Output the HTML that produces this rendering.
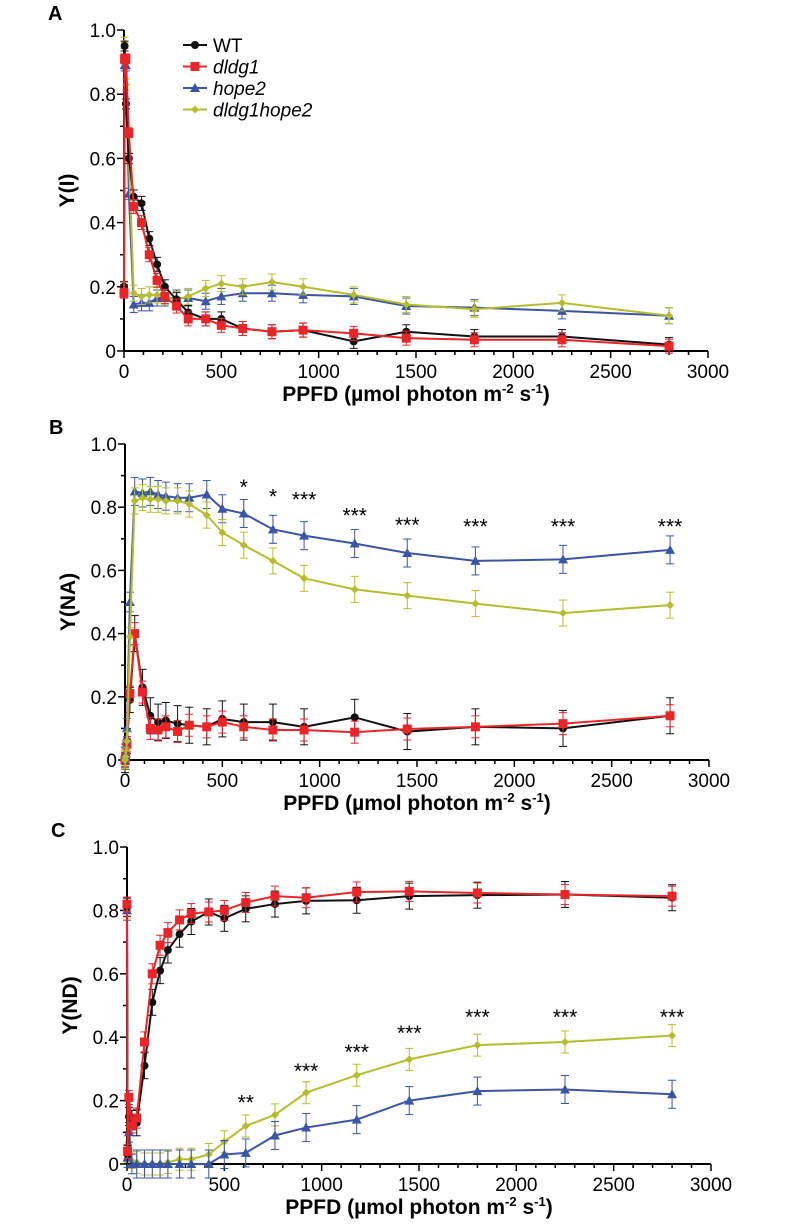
<!DOCTYPE html><html><head><meta charset="utf-8"><style>body{margin:0;background:#fff}svg{display:block}</style></head><body>
<svg id="s" width="800" height="1229" xmlns="http://www.w3.org/2000/svg" font-family="Liberation Sans, Arial, sans-serif"></svg>
<script>
const S=document.getElementById('s');let h='';
const C={k:'#111',r:'#e8262a',b:'#3a55a4',y:'#b5bd2f'};
const X=[0,3,10,25,50,90,130,170,210,270,330,420,500,610,760,920,1180,1450,1800,2250,2800];
function panel(P){
 const {x0,y0,y1,letter,title}=P;const px=v=>x0+v*(584/3000);const py=v=>y0-(y0-y1)*v;
 h+=`<text x="${x0-76}" y="${y1-10}" font-size="20" font-weight="bold">${letter}</text>`;
 h+=`<line x1="${x0}" y1="${y1}" x2="${x0}" y2="${y0}" stroke="#000" stroke-width="2"/><line x1="${x0}" y1="${y0}" x2="${px(3000)}" y2="${y0}" stroke="#000" stroke-width="2"/>`;
 for(let i=0;i<=10;i++){const y=py(i/10);const L=i%2?4:7;h+=`<line x1="${x0-L}" x2="${x0}" y1="${y}" y2="${y}" stroke="#000" stroke-width="1.5"/>`;if(i%2==0)h+=`<text x="${x0-8}" y="${y+7}" font-size="19" text-anchor="end">${i==0?'0':(i/10).toFixed(1)}</text>`;}
 for(let v=0;v<=3000;v+=100){const x=px(v);const L=v%500?4:7;h+=`<line x1="${x}" x2="${x}" y1="${y0}" y2="${y0+L}" stroke="#000" stroke-width="1.5"/>`;if(v%500==0)h+=`<text x="${x}" y="${y0+27}" font-size="19" text-anchor="middle">${v}</text>`;}
 h+=`<text x="${px(1500)}" y="${y0+50}" font-size="21" font-weight="bold" text-anchor="middle">PPFD (µmol photon m<tspan font-size="13" dy="-8">-2</tspan><tspan dy="8"> s</tspan><tspan font-size="13" dy="-8">-1</tspan><tspan dy="8">)</tspan></text>`;
 h+=`<text transform="translate(${x0-50},${(y0+y1)/2}) rotate(-90)" font-size="21" font-weight="bold" text-anchor="middle">${title}</text>`;
 for(const s of P.series){const c=C[s.c];let pts=[];s.d.forEach((v,i)=>{if(v==null)return;pts.push([px(X[i]),py(v)]);});
  pts.forEach(([x,y],i)=>{const e=(i>3?10:7)*(s.e||1);h+=`<line x1="${x}" x2="${x}" y1="${y-e}" y2="${y+e}" stroke="${c}" stroke-width="1"/><line x1="${x-4}" x2="${x+4}" y1="${y-e}" y2="${y-e}" stroke="${c}"/><line x1="${x-4}" x2="${x+4}" y1="${y+e}" y2="${y+e}" stroke="${c}"/>`;});
  h+=`<polyline fill="none" stroke="${c}" stroke-width="2" points="${pts.map(p=>p.join(',')).join(' ')}"/>`;
  pts.forEach(([x,y])=>{h+=mk(s.c,x,y);});}
 for(const [v,y,t] of P.stars||[])h+=`<text x="${px(v)}" y="${py(y)+9}" font-size="21" text-anchor="middle">${t}</text>`;
}
function mk(c,x,y){const col=C[c];if(c=='k')return `<circle cx="${x}" cy="${y}" r="4" fill="${col}"/>`;if(c=='r')return `<rect x="${x-4.5}" y="${y-4.5}" width="9" height="9" fill="${col}"/>`;if(c=='b')return `<polygon points="${x},${y-5} ${x-5},${y+4} ${x+5},${y+4}" fill="${col}"/>`;return `<polygon points="${x},${y-4} ${x+4},${y} ${x},${y+4} ${x-4},${y}" fill="${col}"/>`;}
panel({x0:124,y0:351,y1:30,letter:'A',title:'Y(I)',series:[
 {c:'b',d:[0.19,0.89,0.89,0.49,0.145,0.15,0.15,0.165,0.165,0.165,0.165,0.155,0.17,0.18,0.18,0.175,0.17,0.14,0.135,0.125,0.11],e:.8},
 {c:'y',d:[0.2,0.96,0.83,0.6,0.18,0.17,0.175,0.175,0.17,0.16,0.17,0.195,0.21,0.2,0.215,0.2,0.175,0.145,0.13,0.15,0.11],e:.8},
 {c:'k',d:[0.2,0.95,0.77,0.6,0.48,0.46,0.35,0.27,0.2,0.16,0.12,0.1,0.1,0.07,0.06,0.065,0.03,0.06,0.045,0.045,0.02],e:.7},
 {c:'r',d:[0.18,0.91,0.91,0.68,0.45,0.4,0.3,0.22,0.17,0.14,0.1,0.1,0.08,0.07,0.06,0.065,0.055,0.04,0.035,0.035,0.015],e:.7}]});
panel({x0:125,y0:760,y1:444,letter:'B',title:'Y(NA)',series:[
 {c:'k',d:[0,0.01,0.06,0.19,0.4,0.23,0.14,0.12,0.125,0.115,0.11,0.105,0.13,0.12,0.12,0.105,0.135,0.09,0.105,0.1,0.14],e:1.8},
 {c:'r',d:[0,0.01,0.05,0.21,0.4,0.215,0.1,0.095,0.105,0.09,0.11,0.105,0.12,0.105,0.095,0.095,0.088,0.098,0.105,0.115,0.14],e:1.1},
 {c:'b',d:[0.01,0.02,0.1,0.5,0.85,0.845,0.85,0.84,0.835,0.83,0.83,0.84,0.795,0.78,0.73,0.71,0.685,0.655,0.63,0.635,0.665],e:1.4},
 {c:'y',d:[0,0.01,0.06,0.39,0.82,0.83,0.825,0.825,0.82,0.82,0.81,0.775,0.72,0.68,0.63,0.575,0.54,0.52,0.495,0.465,0.49],e:1.3}],
 stars:[[610,0.87,'*'],[760,0.84,'*'],[920,0.83,'***'],[1180,0.78,'***'],[1450,0.75,'***'],[1800,0.745,'***'],[2250,0.745,'***'],[2800,0.745,'***']]});
panel({x0:127,y0:1164,y1:847,letter:'C',title:'Y(ND)',series:[
 {c:'y',d:[0.8,0.03,0.12,0.01,0.005,0,0,0,0.005,0.015,0.015,0.03,0.07,0.12,0.155,0.225,0.28,0.33,0.375,0.385,0.405],e:1.1},
 {c:'b',d:[0.8,0.02,0.1,0,0,0,0,0,0,0,0,0,0.03,0.035,0.09,0.115,0.14,0.2,0.23,0.235,0.22],e:1.4},
 {c:'k',d:[0.81,0.03,0.15,0.14,0.13,0.31,0.51,0.61,0.675,0.725,0.765,0.795,0.775,0.805,0.82,0.83,0.832,0.845,0.848,0.85,0.84],e:1.3},
 {c:'r',d:[0.82,0.04,0.21,0.12,0.145,0.385,0.6,0.69,0.73,0.77,0.79,0.795,0.8,0.825,0.845,0.84,0.858,0.86,0.855,0.85,0.845],e:1.0}],
 stars:[[610,0.2,'**'],[920,0.3,'***'],[1180,0.36,'***'],[1450,0.42,'***'],[1800,0.47,'***'],[2250,0.47,'***'],[2800,0.47,'***']]});
[['k','WT',0],['r','dldg1',1],['b','hope2',1],['y','dldg1hope2',1]].forEach(([c,t,it],i)=>{const y=45+i*21.5;h+=`<line x1="183" x2="207" y1="${y}" y2="${y}" stroke="${C[c]}" stroke-width="2"/>`+mk(c,195,y)+`<text x="213" y="${y+7}" font-size="19" ${it?'font-style="italic"':''}>${t}</text>`;});
S.innerHTML=h;
</script></body></html>
